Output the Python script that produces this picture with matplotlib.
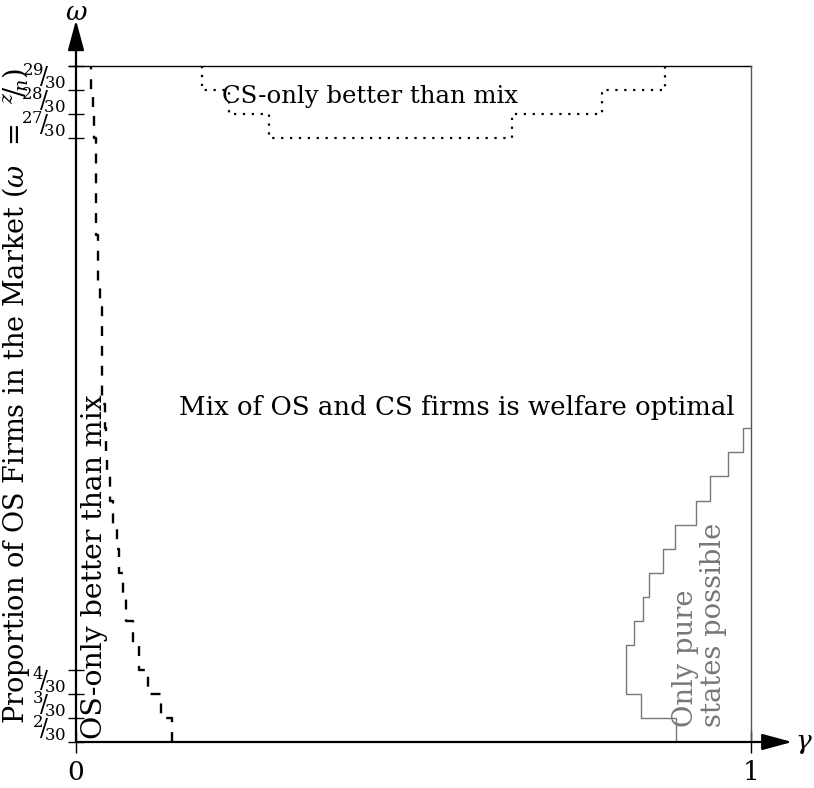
import numpy as np
import matplotlib
matplotlib.use("Agg")
import matplotlib.pyplot as plt

plt.rcParams['font.family'] = ['DejaVu Serif']
plt.rcParams['mathtext.fontset'] = 'dejavuserif'

N = 30

# OS-only region boundary: one gamma value per row z (z = 2 .. 29)
os_rows = np.arange(2, 30)
os_gamma = [0.142, 0.126, 0.107, 0.093, 0.084, 0.074, 0.069, 0.064, 0.060, 0.055,
            0.050, 0.046, 0.044, 0.043, 0.0385, 0.0385, 0.0385, 0.0385, 0.036, 0.032,
            0.032, 0.029, 0.029, 0.029, 0.029, 0.027, 0.025, 0.022]

# CS-only region boundary, rows 29..27 on the left, 27..29 on the right
cs_rows = [29, 28, 27]
cs_left = [0.187, 0.227, 0.286]
cs_right = [0.873, 0.779, 0.646]

# pure-states region boundary, rows 2..14
pure_rows = np.arange(2, 15)
pure_gamma = [0.889, 0.837, 0.815, 0.815, 0.827, 0.840, 0.849, 0.870, 0.887,
              0.919, 0.939, 0.966, 0.988]

y_labels_bottom = [2, 3, 4]
y_labels_top = [27, 28, 29]


def stairs_xy(rows, xs):
    # vertical piece per row, joined by horizontal steps at the half-integers;
    # walks the rows in the given order so the path stays connected
    rows = np.asarray(rows, dtype=float)
    xs = np.asarray(xs, dtype=float)
    d = 0.5 if len(rows) < 2 or rows[1] > rows[0] else -0.5
    x = np.repeat(xs, 2)
    y = np.column_stack([rows - d, rows + d]).ravel()
    return x, y


fig = plt.figure(figsize=(8.14, 7.88), dpi=100)
ax = fig.add_axes([76 / 814, 46 / 788, 675 / 814, 676 / 788])
ax.set_xlim(0, 1)
ax.set_ylim(1.5, 29.5)
for s in ax.spines.values():
    s.set_visible(False)

# frame: top and right
ax.plot([-0.011, 1.0], [29.5, 29.5], color='black', lw=1.0, clip_on=False)
ax.plot([1.0, 1.0], [1.5, 29.5], color='#555555', lw=1.0, clip_on=False)

# axes with arrows
arrow = dict(arrowstyle='-|>,head_length=1.85,head_width=0.5', mutation_scale=10,
             lw=1.6, color='black', shrinkA=0, shrinkB=0)
ax.annotate('', xy=(0, 31.4), xytext=(0, 1.5), arrowprops=arrow,
            annotation_clip=False)
ax.annotate('', xy=(1.061, 1.5), xytext=(0, 1.5), arrowprops=arrow,
            annotation_clip=False)
ax.text(0, 31.72, r'$\omega$', fontsize=19, ha='center', va='center')
ax.text(1.0785, 1.45, r'$\gamma$', fontsize=19, ha='center', va='center')

# y ticks at the row boundaries, labels in the middle of each row
ax.set_yticks([1.5, 2.5, 3.5, 4.5, 26.5, 27.5, 28.5, 29.5])
ax.set_yticklabels([])
ax.tick_params(axis='y', direction='inout', length=11, width=1.0, left=True)
for z in y_labels_bottom + y_labels_top:
    ax.text(-0.0148, z + 0.08, r'${}^{%d}\!/\!_{%d}$' % (z, N), fontsize=17,
            ha='right', va='center')

ax.set_xticks([0, 1])
ax.set_xticklabels(['0', '1'], fontsize=19)
ax.tick_params(axis='x', direction='inout', length=16, width=1.0, pad=5)

fig.text(16 / 814, 1 - 396 / 788,
         r'Proportion of OS Firms in the Market ($\omega\;\;=\;\;{}^{z}\!/\!_{n}$)',
         fontsize=19.5, rotation=90, ha='center', va='center')

# OS-only boundary (dashed)
x, y = stairs_xy(os_rows, os_gamma)
ax.plot(x, y, color='black', lw=1.7, ls=(0, (4.2, 4.2)), clip_on=False)

# CS-only boundary (dotted)
xl, yl = stairs_xy(cs_rows, cs_left)
xr, yr = stairs_xy(cs_rows[::-1], cs_right[::-1])
ax.plot(np.concatenate([xl, xr]), np.concatenate([yl, yr]), color='black', lw=1.6,
        ls=(0, (1, 3)), clip_on=False)

# pure states boundary (thin grey step)
xp, yp = stairs_xy(pure_rows, pure_gamma)
xp = np.concatenate([xp, [1.0]])
yp = np.concatenate([yp, [yp[-1]]])
ax.plot(xp, yp, color='#777777', lw=1.0)

# region labels
ax.text(0.4356, 28.22, 'CS-only better than mix', fontsize=17.6, ha='center',
        va='center')
ax.text(0.564, 15.34, 'Mix of OS and CS firms is welfare optimal', fontsize=18.7,
        ha='center', va='center')
ax.text(0.028, 8.75, 'OS-only better than mix', fontsize=20.4, rotation=90,
        ha='center', va='center')
ax.text(0.924, 6.35, 'Only pure\nstates possible', fontsize=19.7, rotation=90,
        ha='center', va='center', multialignment='left', color='#777777',
        linespacing=1.05)

fig.savefig('out.png', dpi=100)
